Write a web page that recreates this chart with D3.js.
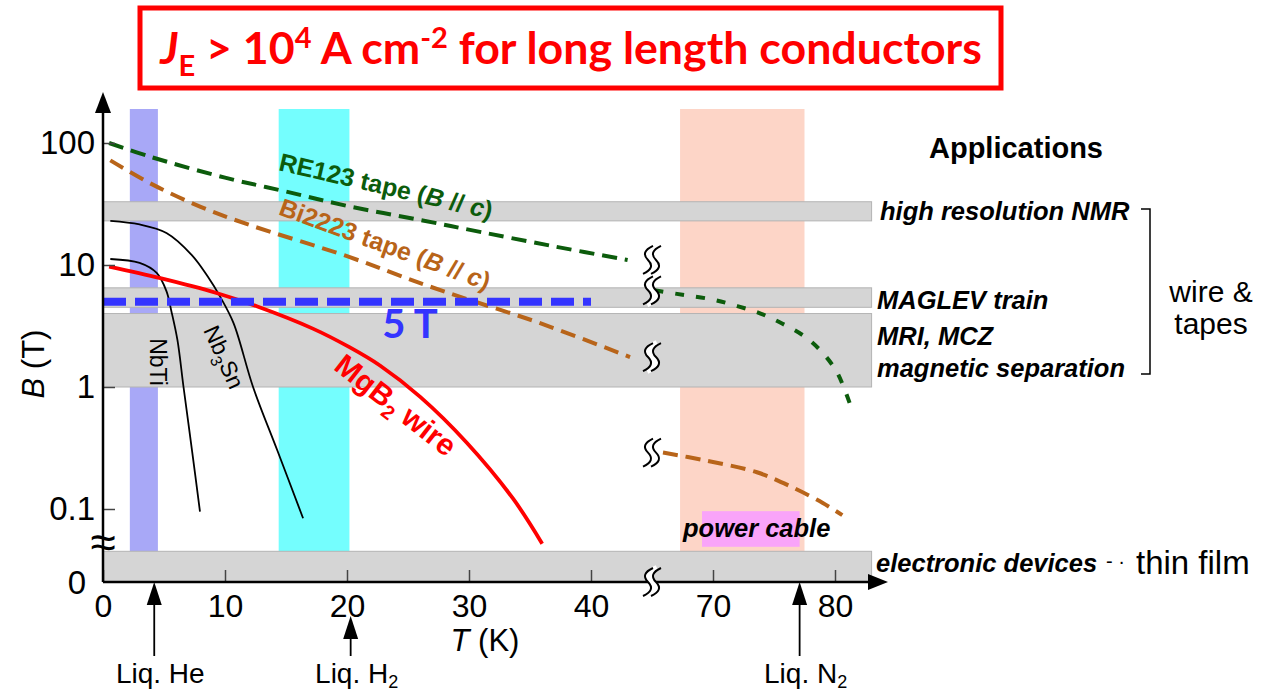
<!DOCTYPE html>
<html>
<head>
<meta charset="utf-8">
<script src="https://cdn.jsdelivr.net/npm/d3@7"></script>
<style>
  body { margin: 0; background: #fff; }
  svg { display: block; font-family: "Liberation Sans", Arial, sans-serif; }
</style>
</head>
<body>
<svg id="chart" width="1261" height="694"></svg>
<script>
// ---- data ----
const xTickValues = [0, 10, 20, 30, 40, 70, 80];
const yTickValues = [100, 10, 1, 0.1];

const coolantNames = ["Liq. He", "Liq. H", "Liq. N"];
const coolantSubs = ["", "2", "2"];
const coolantT = [4.2, 20.3, 77.1];
const coolantBandLow = [2.2, 14.4, 67.3];
const coolantBandHigh = [4.5, 20.2, 77.5];
const coolantColors = ["#a8a8f7", "#74fefe", "#fdd5c7"];

const appNames = ["high resolution NMR", "MAGLEV train", "MRI, MCZ", "electronic devices"];
const appLow = [23, 4.5, 1, 0];
const appHigh = [33, 6.5, 4, 0.045];

const powerCableT = [69.1, 77.1];
const powerCableB = [0.049, 0.096];

// [T (K), B (T)]
const re123Low = [[0.5, 100], [3.9, 77], [10, 52], [15, 40], [20, 30.5], [26, 23.4], [31, 18.6], [37, 14.2], [43, 11]];
const re123High = [[65.2, 6.2], [67.5, 5.7], [70, 5.2], [72, 4.6], [73.9, 4.0], [75.7, 3.3], [77.5, 2.6], [79, 1.9], [80.2, 1.3], [81.2, 0.74]];
const bi2223Low = [[0.6, 72], [4, 46], [8, 30], [12, 21.3], [20, 11.8], [26, 7.1], [30.5, 5.0], [35.6, 3.4], [43.2, 1.76]];
const bi2223High = [[65.9, 0.29], [69.2, 0.252], [73.6, 0.2], [76.6, 0.149], [79, 0.112], [80.6, 0.089]];
const mgb2 = [[0.5, 9.7], [4.7, 7.8], [9.3, 5.9], [12.6, 4.59], [17.2, 3.01], [20.2, 2.12], [22.7, 1.5], [26, 0.83], [29.8, 0.351], [33.6, 0.122], [36, 0.052]];
const nbti = [[0.6, 11.2], [3.0, 10.4], [4.4, 8.6], [5.2, 6.1], [5.6, 4.2], [6.1, 2.43], [6.6, 1], [7.3, 0.3], [7.95, 0.095]];
const nb3sn = [[0.6, 23], [3, 21.5], [5.2, 18.3], [7.3, 12], [8.6, 8], [9.6, 5.5], [10.7, 3.34], [12.3, 1], [14.3, 0.3], [16.4, 0.084]];
const fiveTesla = [[0, 5], [40, 5]];
const breakT = 45;

// ---- scales ----
const svg = d3.select("#chart");
const x = d3.scaleLinear().domain([0, 45, 65, 85]).range([103, 652, 652, 896]);
const y = d3.scaleLog().domain([0.1, 100]).range([509, 143]);
const y0 = 582;                       // position of B = 0
const yv = (v) => (v <= 0 ? y0 : y(v));
const plotTop = 109, xEnd = x(83);

const line = d3.line().x((d) => x(d[0])).y((d) => y(d[1])).curve(d3.curveCatmullRom.alpha(0.5));

// coolant bands
svg.append("g")
  .selectAll("rect")
  .data(coolantNames)
  .join("rect")
  .attr("x", (d, i) => x(coolantBandLow[i]))
  .attr("width", (d, i) => x(coolantBandHigh[i]) - x(coolantBandLow[i]))
  .attr("y", plotTop)
  .attr("height", yv(appHigh[3]) - plotTop)
  .attr("fill", (d, i) => coolantColors[i]);

// power cable box
svg.append("rect")
  .attr("x", x(powerCableT[0]))
  .attr("width", x(powerCableT[1]) - x(powerCableT[0]))
  .attr("y", y(powerCableB[1]))
  .attr("height", y(powerCableB[0]) - y(powerCableB[1]))
  .attr("fill", "#f9a4f9");

// application bands
svg.append("g")
  .selectAll("rect")
  .data(appNames)
  .join("rect")
  .attr("x", x(0))
  .attr("width", xEnd - x(0))
  .attr("y", (d, i) => yv(appHigh[i]))
  .attr("height", (d, i) => yv(appLow[i]) - yv(appHigh[i]))
  .attr("fill", "#d5d5d5")
  .attr("stroke", "#b3b3b3")
  .attr("stroke-width", 1);

// curves
const curves = svg.append("g").attr("fill", "none");
curves.append("path").datum(nbti).attr("d", line).attr("stroke", "#000").attr("stroke-width", 1.8);
curves.append("path").datum(nb3sn).attr("d", line).attr("stroke", "#000").attr("stroke-width", 1.8);
curves.append("path").datum(mgb2).attr("d", line).attr("stroke", "#f00").attr("stroke-width", 3.8);
curves.append("path").datum(re123Low).attr("d", line).attr("stroke", "#0c5c0c").attr("stroke-width", 4).attr("stroke-dasharray", "15,8");
curves.append("path").datum(re123High).attr("d", line).attr("stroke", "#0c5c0c").attr("stroke-width", 4).attr("stroke-dasharray", "9,12");
curves.append("path").datum(bi2223Low).attr("d", line).attr("stroke", "#b86419").attr("stroke-width", 4).attr("stroke-dasharray", "15,8");
curves.append("path").datum(bi2223High).attr("d", line).attr("stroke", "#b86419").attr("stroke-width", 4).attr("stroke-dasharray", "15,8");
curves.append("path").datum(fiveTesla).attr("d", d3.line().x((d) => x(d[0])).y((d) => y(d[1])))
  .attr("stroke", "#3434ff").attr("stroke-width", 8).attr("stroke-dasharray", "23,9");

// break marks (double S)
function breakMark(cx, cy) {
  const s = (dx) => `M${cx + dx + 5},${cy - 14} Q${cx + dx - 8},${cy - 8} ${cx + dx},${cy} T${cx + dx - 5},${cy + 14}`;
  const g = svg.append("g").attr("fill", "none");
  g.append("path").attr("d", s(0)).attr("stroke", "#fff").attr("stroke-width", 6);
  g.append("path").attr("d", s(-4)).attr("stroke", "#000").attr("stroke-width", 2);
  g.append("path").attr("d", s(4)).attr("stroke", "#000").attr("stroke-width", 2);
}
[re123Low[re123Low.length - 1], re123High[0], bi2223Low[bi2223Low.length - 1], bi2223High[0]]
  .forEach((d) => breakMark(x(breakT), y(d[1])));

// axes
const xAxis = svg.append("g")
  .attr("transform", `translate(0,${y0})`)
  .call(d3.axisBottom(x).tickValues(xTickValues).tickSizeInner(-12).tickSizeOuter(0).tickPadding(12));
xAxis.select(".domain").remove();
xAxis.selectAll("line").attr("stroke", "#444").attr("stroke-width", 1.5);
xAxis.selectAll("text").attr("font-size", 32).attr("font-family", "Liberation Sans, Arial, sans-serif").attr("fill", "#000");

const yAxis = svg.append("g")
  .attr("transform", `translate(${x(0)},0)`)
  .call(d3.axisLeft(y).tickValues(yTickValues).tickFormat((d) => String(d)).tickSizeInner(-12).tickSizeOuter(0).tickPadding(8));
yAxis.select(".domain").remove();
yAxis.selectAll("line").attr("stroke", "#444").attr("stroke-width", 1.5);
yAxis.selectAll("text").attr("font-size", 33).attr("font-family", "Liberation Sans, Arial, sans-serif").attr("fill", "#000");

svg.append("text").attr("x", 86).attr("y", y0).attr("dy", "0.35em").attr("text-anchor", "end")
  .attr("font-size", 33).text("0");

// axis lines with arrows
svg.append("line").attr("x1", x(0)).attr("x2", 872).attr("y1", y0).attr("y2", y0).attr("stroke", "#000").attr("stroke-width", 2.5);
svg.append("path").attr("d", `M868,${y0 - 8}L888,${y0}L868,${y0 + 8}Z`).attr("fill", "#000");
svg.append("line").attr("x1", x(0)).attr("x2", x(0)).attr("y1", y0).attr("y2", 110).attr("stroke", "#000").attr("stroke-width", 2.5);
svg.append("path").attr("d", `M${x(0) - 8},113L${x(0)},92L${x(0) + 8},113Z`).attr("fill", "#000");

breakMark(x(breakT), y0);
svg.append("text").attr("x", x(0)).attr("y", 542).attr("dy", "0.35em").attr("text-anchor", "middle")
  .attr("font-size", 46).text("\u2248");

// axis titles
const bTitle = svg.append("text").attr("transform", "translate(44,364) rotate(-90)")
  .attr("text-anchor", "middle").attr("font-size", 31);
bTitle.append("tspan").attr("font-style", "italic").text("B");
bTitle.append("tspan").text(" (T)");
const tTitle = svg.append("text").attr("x", 485).attr("y", 651).attr("text-anchor", "middle").attr("font-size", 31);
tTitle.append("tspan").attr("font-style", "italic").text("T");
tTitle.append("tspan").text(" (K)");

// coolant arrows and labels
const arrowTop = [y0, 616, y0];
coolantNames.forEach((name, i) => {
  const cx = x(coolantT[i]);
  svg.append("line").attr("x1", cx).attr("x2", cx).attr("y1", arrowTop[i] + 20).attr("y2", 656)
    .attr("stroke", "#000").attr("stroke-width", 1.8);
  svg.append("path").attr("d", `M${cx - 7.5},${arrowTop[i] + 23}L${cx},${arrowTop[i]}L${cx + 7.5},${arrowTop[i] + 23}Z`).attr("fill", "#000");
  const t = svg.append("text").attr("x", cx + 6).attr("y", 683).attr("text-anchor", "middle").attr("font-size", 28);
  t.append("tspan").text(name);
  if (coolantSubs[i]) t.append("tspan").attr("font-size", 18).attr("dy", 5).text(coolantSubs[i]);
});

// curve labels
function label(cx, cy, angle, size, color, weight) {
  return svg.append("text")
    .attr("transform", `translate(${cx},${cy}) rotate(${angle})`)
    .attr("text-anchor", "middle").attr("dy", "0.35em")
    .attr("font-size", size).attr("font-weight", weight).attr("fill", color);
}
let t = label(386, 186, 13, 25, "#0c5c0c", "bold");
t.append("tspan").text("RE123 tape (");
t.append("tspan").attr("font-style", "italic").text("B");
t.append("tspan").text(" // ");
t.append("tspan").attr("font-style", "italic").text("c");
t.append("tspan").text(")");

t = label(385, 244, 20, 25, "#b86419", "bold");
t.append("tspan").text("Bi2223 tape (");
t.append("tspan").attr("font-style", "italic").text("B");
t.append("tspan").text(" // ");
t.append("tspan").attr("font-style", "italic").text("c");
t.append("tspan").text(")");

t = label(396, 405, 38, 30, "#f00", "bold");
t.append("tspan").text("MgB");
t.append("tspan").attr("font-size", 20).attr("dy", 7).text("2");
t.append("tspan").attr("dy", -7).text(" wire");

label(158, 362, 90, 23, "#000", "normal").text("NbTi");
t = label(224, 357, 66, 23, "#000", "normal");
t.append("tspan").text("Nb");
t.append("tspan").attr("font-size", 16).attr("dy", 6).text("3");
t.append("tspan").attr("dy", -6).text("Sn");

svg.append("text").attr("x", 410).attr("y", 338).attr("text-anchor", "middle")
  .attr("font-family", "Lato, 'Open Sans', sans-serif").attr("font-weight", "bold")
  .attr("font-size", 40).attr("fill", "#3434ff").text("5 T");

svg.append("text").attr("x", 683).attr("y", 537).attr("font-size", 25.5)
  .attr("font-weight", "bold").attr("font-style", "italic").text("power cable");

// application labels
svg.append("text").attr("x", 1016).attr("y", 158).attr("text-anchor", "middle")
  .attr("font-size", 29).attr("font-weight", "bold").text("Applications");
const appLabelY = [220, 309, 345, 572];
const appLabelX = [880, 877, 877, 876];
appNames.forEach((name, i) => {
  svg.append("text").attr("x", appLabelX[i]).attr("y", appLabelY[i]).attr("font-size", 25.5)
    .attr("font-weight", "bold").attr("font-style", "italic").text(name);
});
svg.append("text").attr("x", 877).attr("y", 377).attr("font-size", 25.5)
  .attr("font-weight", "bold").attr("font-style", "italic").text("magnetic separation");
svg.append("text").attr("x", 1106).attr("y", 568).attr("font-size", 20).text("- \u00b7");
svg.append("text").attr("x", 1136).attr("y", 574).attr("font-size", 33).text("thin film");

svg.append("path").attr("d", "M1141,209H1150V374H1141").attr("fill", "none").attr("stroke", "#000").attr("stroke-width", 1.5);
svg.append("text").attr("x", 1211).attr("y", 302).attr("text-anchor", "middle").attr("font-size", 30).text("wire &");
svg.append("text").attr("x", 1211).attr("y", 334).attr("text-anchor", "middle").attr("font-size", 30).text("tapes");

// title box
svg.append("rect").attr("x", 140).attr("y", 8).attr("width", 861).attr("height", 80)
  .attr("fill", "none").attr("stroke", "#f00").attr("stroke-width", 5);
const title = svg.append("text").attr("x", 571).attr("y", 64).attr("text-anchor", "middle")
  .attr("font-family", "Lato, 'Open Sans', sans-serif").attr("font-weight", "bold")
  .attr("font-size", 42).attr("fill", "#f00");
title.append("tspan").attr("font-style", "italic").text("J");
title.append("tspan").attr("font-size", "0.65em").attr("dy", 12).text("E");
title.append("tspan").attr("dy", -12).text(" > 10");
title.append("tspan").attr("font-size", "0.65em").attr("dy", -16).text("4");
title.append("tspan").attr("dy", 16).text(" A cm");
title.append("tspan").attr("font-size", "0.65em").attr("dy", -16).text("-2");
title.append("tspan").attr("dy", 16).text(" for long length conductors");
const tw = title.node().getComputedTextLength();
title.attr("font-size", 42 * 822 / tw);
</script>
</body>
</html>
